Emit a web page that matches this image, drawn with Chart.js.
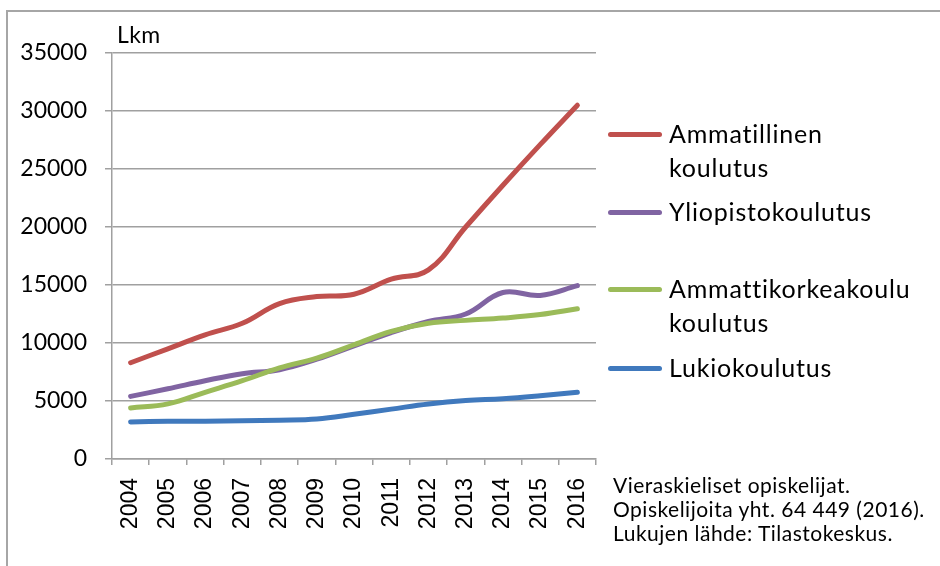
<!DOCTYPE html>
<html>
<head>
<meta charset="utf-8">
<script src="https://cdn.jsdelivr.net/npm/chart.js@4/dist/chart.umd.min.js"></script>
<style>
  body { margin: 0; background: #fff; }
  #wrap { position: relative; width: 940px; height: 566px; overflow: hidden; }
  #frame { position: absolute; left: 6px; top: 10px; width: 1000px; height: 1000px;
           border-left: 2px solid #a6a6a6; border-top: 2px solid #a6a6a6; }
  canvas { position: absolute; left: 0; top: 0; }
  .unit { position: absolute; left: 117px; top: 23px; font: 23px Lato; line-height: 22px; color: #000; letter-spacing: 0.4px; }
  .leg { position: absolute; left: 608px; font: 25px Lato; line-height: 34px; color: #000; letter-spacing: 0.8px; }
  .leg i { position: absolute; left: 0; top: 16px; width: 54px; height: 5px; border-radius: 3px; }
  .leg span { position: absolute; left: 61px; top: 0; white-space: pre; }
  .note { position: absolute; left: 613px; top: 473px; font: 21px Lato; line-height: 24px; color: #000; white-space: pre; letter-spacing: 0.5px; }
</style>
</head>
<body>
<div id="wrap">
  <div id="frame"></div>
  <canvas id="chart" width="940" height="566"></canvas>
  <div class="unit">Lkm</div>
  <div id="legend"></div>
  <div class="note">Vieraskieliset opiskelijat.
Opiskelijoita yht. 64 449 (2016).
Lukujen lähde: Tilastokeskus.</div>
</div>
<script>
"use strict";
const years = ['2004', '2005', '2006', '2007', '2008', '2009', '2010', '2011', '2012', '2013', '2014', '2015', '2016'];
const ammatillinen = [8300, 9500, 10700, 11700, 13400, 14000, 14200, 15500, 16300, 20000, 23600, 27100, 30500];
const yliopisto = [5400, 6050, 6750, 7350, 7700, 8600, 9750, 10900, 11850, 12500, 14350, 14100, 14950];
const amk = [4400, 4750, 5750, 6750, 7850, 8700, 9850, 11000, 11700, 11950, 12150, 12450, 12950];
const lukio = [3200, 3250, 3250, 3300, 3350, 3450, 3850, 4300, 4750, 5050, 5200, 5450, 5750];
const seriesNames = ['Ammatillinen\nkoulutus', 'Yliopistokoulutus', 'Ammattikorkeakoulu\nkoulutus', 'Lukiokoulutus'];
const seriesColors = ['#c0504d', '#8064a2', '#9bbb59', '#4079bd'];
const yMax = 35000;
const yStep = 5000;

const legendTops = [116, 194, 271, 350];
// green is drawn over purple where they cross
const drawOrder = [0, 2, 1, 3];

const makeSet = (name, values, color, order) => ({
    label: name.replace('\n', ' '),
    data: values,
    order,
    borderColor: color,
    backgroundColor: color,
    borderWidth: 5,
    borderCapStyle: 'round',
    borderJoinStyle: 'round',
    pointRadius: 0,
    tension: 0.4,
    fill: false,
});

const seriesValues = [ammatillinen, yliopisto, amk, lukio];
const datasets = seriesValues.map((vals, i) => makeSet(seriesNames[i], vals, seriesColors[i], drawOrder[i]));

// legend as real text, built from the series lists
const legendEl = document.getElementById('legend');
seriesNames.forEach((name, i) => {
    const item = document.createElement('div');
    item.className = 'leg';
    item.style.top = legendTops[i] + 'px';
    const swatch = document.createElement('i');
    swatch.style.background = seriesColors[i];
    const text = document.createElement('span');
    text.textContent = name;
    item.appendChild(swatch);
    item.appendChild(text);
    legendEl.appendChild(item);
});

const gridGray = '#a0a0a0';
const ctx = document.getElementById('chart').getContext('2d');
new Chart(ctx, {
    type: 'line',
    data: { labels: years, datasets },
    options: {
        responsive: false,
        animation: false,
        devicePixelRatio: 1,
        layout: { padding: { top: 53, right: 344, left: 0, bottom: 0 } },
        plugins: { legend: { display: false }, tooltip: { enabled: false } },
        scales: {
            x: {
                type: 'category',
                offset: true,
                grid: { offset: true, drawOnChartArea: false, drawTicks: true, tickLength: 6, color: gridGray, lineWidth: 1.5 },
                border: { color: gridGray, width: 1.5 },
                ticks: {
                    minRotation: 90, maxRotation: 90, autoSkip: false, padding: 13,
                    color: '#000', font: { family: 'Liberation Sans', size: 23 },
                },
                afterFit: (scale) => { scale.height = 107; },
            },
            y: {
                min: 0, max: yMax,
                grid: { color: gridGray, lineWidth: 1.5, tickLength: 7 },
                border: { color: gridGray, width: 1.5 },
                ticks: {
                    stepSize: yStep, padding: 18, color: '#000',
                    font: { family: 'Lato', size: 23 },
                    callback: (v) => String(v),
                },
                afterFit: (scale) => { scale.width = 112; },
            },
        },
    },
});
</script>
</body>
</html>
